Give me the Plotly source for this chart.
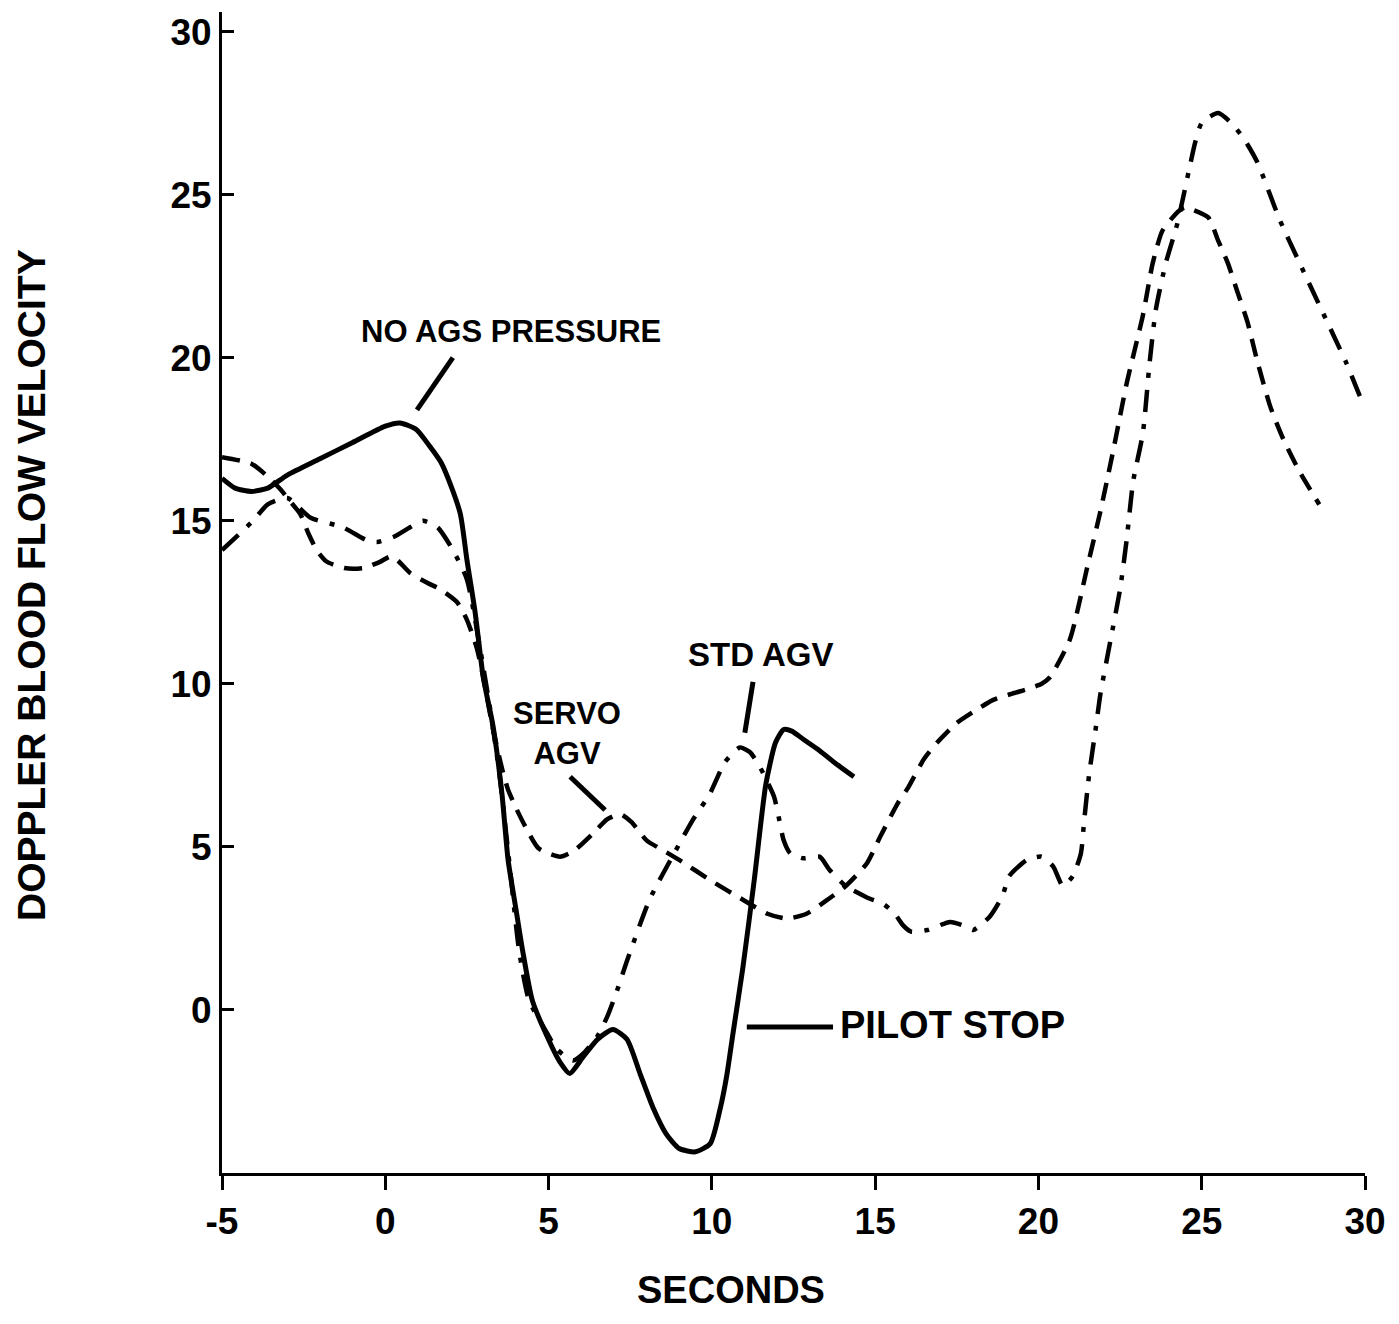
import plotly.graph_objects as go

# ---- data ----
solid_x = [-5, -4.6, -4.1, -3.6, -3.0, -2.0, -1.0, 0.0, 0.45, 0.95, 1.35, 1.7, 2.0, 2.3, 2.5, 2.75,
           3.0, 3.3, 3.57, 3.76, 4.0, 4.2, 4.5, 4.95, 5.35, 5.65, 6.05, 6.5, 6.97, 7.4, 7.8, 8.2,
           8.6, 9.0, 9.5, 9.95, 10.25, 10.45, 10.65, 10.95, 11.3, 11.65, 11.95, 12.2, 12.45,
           12.8, 13.3, 13.8, 14.35]
solid_y = [16.3, 16.0, 15.9, 16.0, 16.4, 16.9, 17.4, 17.9, 18.0, 17.8, 17.3, 16.8, 16.1, 15.2,
           13.8, 12.2, 10.2, 8.7, 6.65, 4.6, 3.1, 1.85, 0.3, -0.8, -1.6, -1.95, -1.45, -0.9, -0.6,
           -0.9, -1.95, -3.0, -3.8, -4.25, -4.35, -4.1, -3.05, -2.05, -0.7, 1.3, 4.0, 6.9, 8.2,
           8.6, 8.55, 8.3, 7.95, 7.55, 7.15]

std_x = [-5, -4.05, -3.6, -3.0, -2.3, -1.3, -0.56, -0.25, 0.25, 0.76, 1.15, 1.6, 2.07, 2.5,
         2.9, 3.2, 3.5, 3.8, 4.1, 4.4, 4.95, 5.25, 5.75, 6.1, 6.5, 6.8, 7.1, 7.4, 8.1, 8.9,
         9.4, 9.95, 10.4, 10.86, 11.17, 11.47, 11.9, 12.05, 12.2, 12.4, 12.8, 13.3, 13.6,
         14.1, 14.75, 15.25, 15.6, 15.85, 16.1, 16.6, 17.3, 17.8, 18.0, 18.5, 18.9, 19.1,
         19.65, 20.1, 20.45, 20.75, 21.05, 21.3, 21.4, 21.55, 21.75, 21.9, 22.2, 22.5, 22.7,
         22.9, 23.2, 23.4, 23.6, 23.9, 24.25, 24.6, 24.8, 25.0, 25.5, 25.9, 26.3, 26.7, 27.4,
         28.0, 28.7, 29.4, 29.85]
std_y = [14.1, 15.0, 15.5, 15.7, 15.1, 14.8, 14.4, 14.35, 14.5, 14.8, 15.0, 14.8, 14.1, 13.2,
         11.1, 9.3, 7.2, 4.5, 1.8, 0.3, -0.7, -1.2, -1.55, -1.3, -0.8, -0.2, 0.6, 1.5, 3.4,
         4.9, 5.8, 6.65, 7.6, 8.05, 7.9, 7.45, 6.55, 5.9, 5.2, 4.8, 4.65, 4.7, 4.3, 3.8, 3.45,
         3.25, 2.95, 2.6, 2.4, 2.45, 2.7, 2.55, 2.45, 2.85, 3.5, 4.1, 4.6, 4.7, 4.4, 3.8, 4.1,
         4.8, 5.8, 7.2, 8.6, 9.7, 11.3, 12.9, 14.4, 16.2, 17.7, 19.8, 21.5, 22.9, 24.1, 25.7,
         26.6, 27.2, 27.5, 27.2, 26.7, 26.0, 24.2, 22.9, 21.4, 19.9, 18.8]

servo_x = [-5, -4.1, -3.65, -3.2, -3.0, -2.6, -2.35, -2.1, -1.8, -1.25, -0.68, -0.16, 0.15,
           0.36, 0.76, 1.28, 1.68, 2.2, 2.5, 2.8, 3.0, 3.3, 3.6, 3.76, 4.0, 4.3, 4.7, 5.35,
           5.8, 6.35, 6.8, 7.2, 7.55, 8.0, 8.5, 9.0, 10.0, 11.0, 11.7, 12.3, 12.9, 13.5, 14.1,
           14.75, 15.15, 15.7, 16.0, 16.5, 16.9, 17.5, 18.1, 18.6, 19.2, 19.7, 20.1, 20.35,
           20.96, 21.5, 21.9, 22.3, 22.7, 23.2, 23.5, 23.8, 24.3, 24.5, 25.2, 25.5, 25.8, 26.1,
           26.4, 26.7, 27.1, 27.5, 28.0, 28.6]
servo_y = [16.95, 16.75, 16.4, 15.95, 15.7, 15.2, 14.6, 14.1, 13.75, 13.55, 13.55, 13.74, 13.9,
           13.8, 13.4, 13.1, 12.9, 12.5, 11.96, 11.1, 10.2, 8.6, 7.3, 6.75, 6.2, 5.6, 4.95, 4.7,
           4.9, 5.4, 5.85, 6.0, 5.75, 5.2, 4.9, 4.6, 3.95, 3.35, 2.95, 2.8, 2.95, 3.35, 3.8,
           4.5, 5.3, 6.35, 6.8, 7.7, 8.2, 8.8, 9.2, 9.5, 9.7, 9.85, 10.0, 10.2, 11.35, 13.6,
           15.3, 17.2, 19.2, 21.3, 22.9, 23.9, 24.5, 24.6, 24.3, 23.6, 22.9, 22.0, 21.1, 19.9,
           18.5, 17.5, 16.5, 15.5]

x_ticks = [-5, 0, 5, 10, 15, 20, 25, 30]
x_tick_text = ["-5", "0", "5", "10", "15", "20", "25", "30"]
y_ticks = [0, 5, 10, 15, 20, 25, 30]
y_tick_text = ["0", "5", "10", "15", "20", "25", "30"]

FONT = "Liberation Sans"
LW = 4.5

fig = go.Figure()
fig.add_trace(go.Scatter(x=servo_x, y=servo_y, mode="lines", name="SERVO AGV",
                         line=dict(color="black", width=LW, dash="18px,11px", shape="spline", smoothing=0.6)))
fig.add_trace(go.Scatter(x=std_x, y=std_y, mode="lines", name="STD AGV",
                         line=dict(color="black", width=LW, dash="22px,12px,5px,12px", shape="spline", smoothing=0.6)))
fig.add_trace(go.Scatter(x=solid_x, y=solid_y, mode="lines", name="NO AGS PRESSURE",
                         line=dict(color="black", width=LW + 0.5, shape="spline", smoothing=0.6)))

def label(text, x, y, size=31, xanchor="center", angle=0, ref="data"):
    xr, yr = ("x", "y") if ref == "data" else ("paper", "paper")
    fig.add_annotation(text=text, x=x, y=y, xref=xr, yref=yr, showarrow=False,
                       xanchor=xanchor, yanchor="middle", textangle=angle,
                       font=dict(family=FONT, size=size, color="black", weight="bold"))

def leader(x0, y0, x1, y1, w=5):
    fig.add_shape(type="line", x0=x0, y0=y0, x1=x1, y1=y1, xref="x", yref="y",
                  line=dict(color="black", width=w))

label("NO AGS PRESSURE", 3.85, 20.8, 31)
leader(0.97, 18.4, 2.07, 20.0)
label("SERVO<br>AGV", 5.56, 8.48, 31)
leader(5.66, 7.15, 6.73, 6.13)
label("STD AGV", 11.5, 10.89, 33)
leader(11.26, 10.06, 11.01, 8.5)
label("PILOT STOP", 13.86, -0.46, 38, xanchor="left")
leader(11.07, -0.52, 13.71, -0.52)
label("SECONDS", 0.4453, -0.1008, 38, ref="paper")
label("DOPPLER BLOOD FLOW VELOCITY", -0.1662, 0.5065, 39, angle=-90, ref="paper")

fig.update_layout(
    width=1399, height=1324,
    margin=dict(l=222, r=34, t=12, b=151),
    plot_bgcolor="white", paper_bgcolor="white",
    showlegend=False,
    font=dict(family=FONT, color="black"),
)
fig.update_xaxes(range=[-5, 30], tickvals=x_ticks, ticktext=x_tick_text,
                 showline=True, linecolor="black", linewidth=3,
                 ticks="outside", ticklen=14, tickwidth=3, tickcolor="black",
                 showgrid=False, zeroline=False,
                 tickfont=dict(family=FONT, size=37, color="black", weight="bold"))
fig.update_yaxes(range=[-5, 30.6], tickvals=y_ticks, ticktext=y_tick_text,
                 showline=True, linecolor="black", linewidth=3,
                 ticks="inside", ticklen=12, tickwidth=3, tickcolor="black",
                 showgrid=False, zeroline=False,
                 tickfont=dict(family=FONT, size=37, color="black", weight="bold"))

fig.write_html("out.html")
